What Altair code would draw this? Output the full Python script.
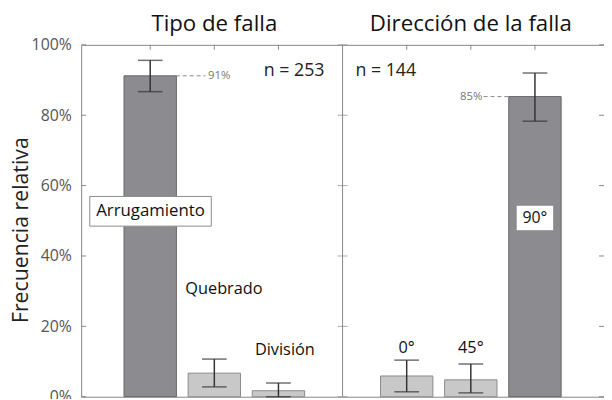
import altair as alt
import pandas as pd

# ---- data ----
cats_tipo = ["Arrugamiento", "Quebrado", "División"]
vals_tipo = [91.2, 6.7, 1.7]
lo_tipo = [86.7, 2.8, 0.0]
hi_tipo = [95.6, 10.7, 3.9]

cats_dir = ["0°", "45°", "90°"]
vals_dir = [5.9, 4.8, 85.3]
lo_dir = [1.4, 1.1, 78.3]
hi_dir = [10.4, 9.3, 92.0]

panel_titles = ["Tipo de falla", "Dirección de la falla"]
n_labels = ["n = 253", "n = 144"]
y_ticks = [0, 20, 40, 60, 80, 100]

# ---- build tables ----
pos_left = [1, 2, 3]
pos_right = [5, 6, 7]
bars = pd.DataFrame({
    "cat": cats_tipo + cats_dir,
    "pos": pos_left + pos_right,
    "val": vals_tipo + vals_dir,
    "lo": lo_tipo + lo_dir,
    "hi": hi_tipo + hi_dir,
    "dark": [True, False, False, False, False, True],
})

W, H = 529, 356
xs = alt.Scale(domain=[0, 8], nice=False, zero=False)
ys = alt.Scale(domain=[0, 100], nice=False)
FONT = "Open Sans"

base = alt.Chart(bars)
X = alt.X("pos:Q", scale=xs, axis=None)

bar_dark = base.transform_filter("datum.dark").mark_bar(
    size=53, color="#8c8c90", stroke="#666666", strokeWidth=1
).encode(x=X, y=alt.Y("val:Q", scale=ys,
                       axis=alt.Axis(values=y_ticks, labelExpr="datum.value + '%'",
                                     title="Frecuencia relativa", tickSize=0,
                                     labelPadding=10, labelFontSize=16, labelColor="#555555",
                                     labelFont=FONT, titleFont=FONT, titleFontSize=21.5,
                                     titleFontWeight="normal", titleColor="#222222",
                                     titleAngle=270, titleAlign="center",
                                     titleBaseline="middle", titleX=-60, titleY=187,
                                     domain=False, grid=False)))
bar_light = base.transform_filter("!datum.dark").mark_bar(
    size=53, color="#c8c8c8", stroke="#8a8a8a", strokeWidth=1
).encode(x=X, y=alt.Y("val:Q", scale=ys))

err = base.mark_rule(color="#333333", strokeWidth=1.5).encode(
    x=X, y=alt.Y("lo:Q", scale=ys), y2="hi:Q")
cap_lo = base.mark_tick(orient="horizontal", size=25, thickness=1.5, color="#333333").encode(
    x=X, y=alt.Y("lo:Q", scale=ys))
cap_hi = base.mark_tick(orient="horizontal", size=25, thickness=1.5, color="#333333").encode(
    x=X, y=alt.Y("hi:Q", scale=ys))

# panel divider
divider = alt.Chart(pd.DataFrame({"x": [4]})).mark_rule(color="#888888", strokeWidth=1).encode(
    x=alt.X("x:Q", scale=xs))

# inward ticks
tick_df = pd.DataFrame({"y": y_ticks})
ticks_left = alt.Chart(tick_df).mark_rule(color="#888888").encode(
    y=alt.Y("y:Q", scale=ys), x=alt.value(0), x2=alt.value(5))
ticks_right = alt.Chart(tick_df).mark_rule(color="#888888").encode(
    y=alt.Y("y:Q", scale=ys), x=alt.value(W), x2=alt.value(W - 5))
div_df = pd.DataFrame({"y": y_ticks, "x": [4] * len(y_ticks)})
ticks_div = alt.Chart(div_df).mark_tick(orient="horizontal", size=10, thickness=1,
                                        color="#888888").encode(
    x=alt.X("x:Q", scale=xs), y=alt.Y("y:Q", scale=ys))
top_df = pd.DataFrame({"x": pos_left + pos_right})
ticks_top = alt.Chart(top_df).mark_rule(color="#888888").encode(
    x=alt.X("x:Q", scale=xs), y=alt.value(0), y2=alt.value(5))

# panel titles
title_df = pd.DataFrame({"t": panel_titles, "x": [2, 6], "y": [106, 106]})
titles = alt.Chart(title_df).mark_text(font=FONT, fontSize=22.5, color="#111111").encode(
    x=alt.X("x:Q", scale=xs), y=alt.Y("y:Q", scale=ys), text="t:N")

# n labels
n_df = pd.DataFrame({"t": n_labels, "x": [2.77, 4.2], "y": [92.6, 92.6]})
n_text = alt.Chart(n_df).mark_text(font=FONT, fontSize=18, color="#222222", align="left").encode(
    x=alt.X("x:Q", scale=xs), y=alt.Y("y:Q", scale=ys), text="t:N")

# percent annotations with dashed leaders
lead_df = pd.DataFrame({"x": [1.4, 6.2], "x2": [1.86, 6.6], "y": [91.2, 85.3]})
leaders = alt.Chart(lead_df).mark_rule(color="#888888", strokeDash=[4, 3]).encode(
    x=alt.X("x:Q", scale=xs), x2="x2:Q", y=alt.Y("y:Q", scale=ys))
pct_df = pd.DataFrame({"t": ["91%", "85%"], "x": [1.9, 6.18], "y": [91.2, 85.3]})
pct_l = alt.Chart(pct_df.iloc[[0]]).mark_text(font=FONT, fontSize=11.5, color="#777777",
                                             align="left").encode(
    x=alt.X("x:Q", scale=xs), y=alt.Y("y:Q", scale=ys), text="t:N")
pct_r = alt.Chart(pct_df.iloc[[1]]).mark_text(font=FONT, fontSize=11.5, color="#777777",
                                             align="right").encode(
    x=alt.X("x:Q", scale=xs), y=alt.Y("y:Q", scale=ys), text="t:N")

# boxed labels
box1 = alt.Chart(pd.DataFrame({"x": [1.005], "y": [52.7]})).mark_point(
    shape="M-1,-0.244H1V0.244H-1Z", size=123 ** 2, filled=True, fill="white",
    stroke="#8a8a8a", strokeWidth=1, opacity=1).encode(
    x=alt.X("x:Q", scale=xs), y=alt.Y("y:Q", scale=ys))
box2 = alt.Chart(pd.DataFrame({"x": [7], "y": [50.8]})).mark_point(
    shape="M-1,-0.68H1V0.68H-1Z", size=38 ** 2, filled=True, fill="white", stroke="#8a8a8a",
    strokeWidth=1, opacity=1).encode(x=alt.X("x:Q", scale=xs), y=alt.Y("y:Q", scale=ys))

lab_df = pd.DataFrame({
    "t": ["Arrugamiento", "Quebrado", "División", "0°", "45°", "90°"],
    "x": [1.005, 2.15, 3.1, 5, 6, 7],
    "y": [52.7, 30.6, 13.2, 13.7, 13.7, 50.8],
    "fs": [17, 16.5, 16.5, 16.5, 16.5, 16],
})
labels = alt.Chart(lab_df).mark_text(font=FONT, color="#111111").encode(
    x=alt.X("x:Q", scale=xs), y=alt.Y("y:Q", scale=ys), text="t:N",
    size=alt.Size("fs:Q", scale=None, legend=None))

chart = alt.layer(
    bar_dark, bar_light, err, cap_lo, cap_hi, divider,
    ticks_left, ticks_right, ticks_div, ticks_top,
    titles, n_text, leaders, pct_l, pct_r, box1, box2, labels,
).properties(
    width=W, height=H,
    autosize=alt.AutoSizeParams(type="none"),
    padding={"left": 74, "top": 35, "right": 0, "bottom": 0},
).configure_view(stroke="#888888", strokeWidth=1)

chart.save("out.html", embed_options={"renderer": "svg", "actions": False})
